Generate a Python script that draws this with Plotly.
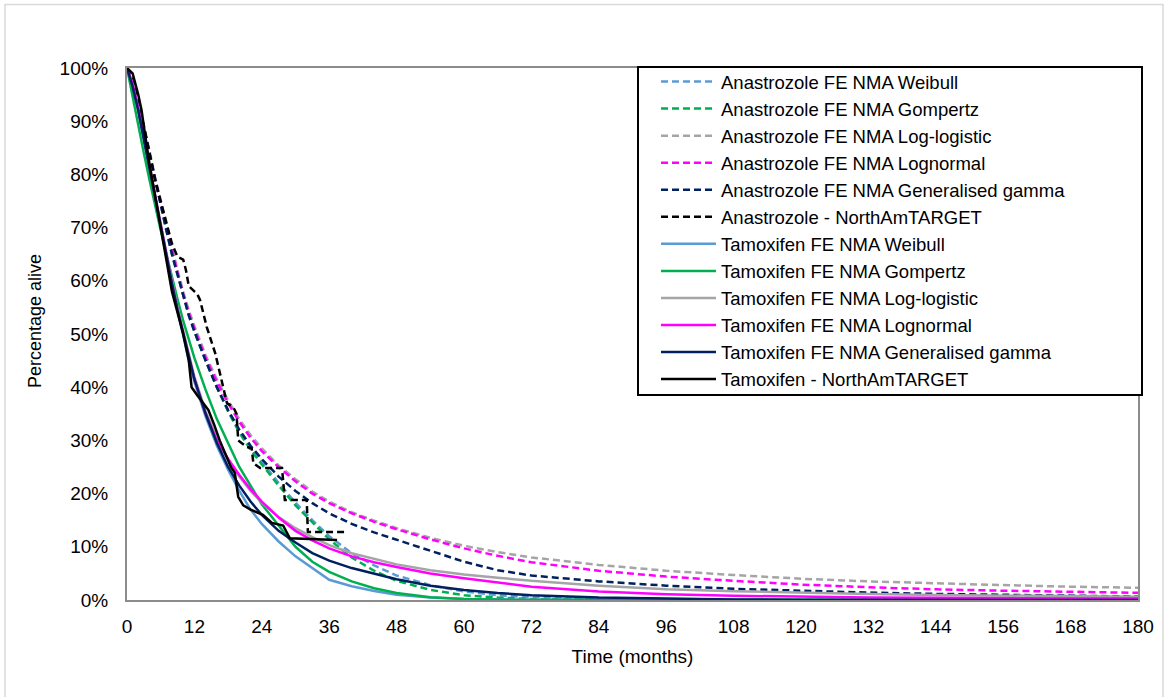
import plotly.graph_objects as go

# ---- data (percent alive) ----
months_fit = [0, 1, 2, 3, 4, 5, 6, 7, 8, 9, 10, 11, 12, 14, 16, 18, 20, 22, 24, 27, 30, 33, 36,
              40, 44, 48, 54, 60, 66, 72, 84, 96, 108, 120, 132, 144, 156, 168, 180]

ana_weibull = [100, 97, 93, 89, 84, 79, 74, 69.5, 65, 61, 57, 53.5, 50.5, 45, 40, 35.5, 31.5, 28.5, 26,
               22, 18.3, 15, 12, 8.8, 6.5, 4.6, 2.8, 1.6, 0.9, 0.5, 0.13, 0.03, 0, 0, 0, 0, 0, 0, 0]
ana_gompertz = [100, 96.5, 92.5, 88.5, 84, 79, 74.5, 70, 65.5, 61.5, 57.5, 54, 50.5, 45, 40, 35.5, 31.5,
                28.2, 25.5, 21.5, 17.8, 14.5, 11.4, 8, 5.5, 3.6, 1.9, 0.9, 0.45, 0.2, 0.03, 0, 0, 0,
                0, 0, 0, 0, 0]
ana_loglogistic = [100, 97.5, 94, 89.5, 84.5, 79.5, 75, 70.5, 66, 62, 58, 54.5, 51.5, 46, 41.5, 37.5,
                   34, 31, 28.5, 25.3, 22.7, 20.4, 18.5, 16.5, 14.9, 13.5, 11.7, 10.2, 9.0, 8.0, 6.6,
                   5.5, 4.7, 4.0, 3.5, 3.1, 2.8, 2.5, 2.3]
ana_lognormal = [100, 97.5, 93.5, 89, 84, 79, 74.5, 70, 65.5, 61.5, 57.5, 54, 51, 45.5, 41, 37, 33.5,
                 30.5, 28, 25, 22.3, 20, 18.2, 16.3, 14.7, 13.3, 11.4, 9.7, 8.3, 7.1, 5.5, 4.4, 3.6,
                 2.9, 2.4, 2.0, 1.75, 1.55, 1.35]
ana_gengamma = [100, 97, 93, 89, 84, 79, 74, 69.5, 65, 61, 57, 53.5, 50.5, 45, 40, 35.7, 32, 29, 26.5,
                23.2, 20.5, 18.2, 16.3, 14.3, 12.7, 11.3, 9.3, 7.2, 5.6, 4.6, 3.5, 2.7, 2.1, 1.7, 1.4,
                1.15, 0.95, 0.8, 0.65]

tam_weibull = [100, 96.5, 92, 86.5, 81, 75.5, 70, 64.5, 59.5, 54.5, 49.5, 45, 41, 34.5, 29, 24.5, 20.5,
               17, 14.3, 11, 8.2, 6, 3.8, 2.6, 1.7, 1.0, 0.45, 0.2, 0.08, 0.03, 0, 0, 0, 0, 0, 0, 0,
               0, 0]
tam_gompertz = [100, 94.5, 89, 84, 79, 74, 69.5, 65, 60.5, 56.5, 52.5, 49, 45.5, 39.5, 34, 29.5, 25,
                21.5, 18, 14, 10, 7.2, 5.3, 3.5, 2.2, 1.3, 0.5, 0.2, 0.05, 0, 0, 0, 0, 0, 0, 0, 0,
                0, 0]
tam_loglogistic = [100, 97, 92.5, 87, 81.5, 76, 70.5, 65, 60, 55, 50.5, 46, 42, 35.5, 30.5, 26.5, 23.2,
                   20.5, 18.3, 15.6, 13.5, 11.8, 10.3, 8.8, 7.7, 6.7, 5.6, 4.8, 4.2, 3.6, 2.7, 2.0,
                   1.65, 1.35, 1.12, 0.95, 0.82, 0.72, 0.63]
tam_lognormal = [100, 97, 92.5, 87, 81.5, 75.5, 70, 64.5, 59.5, 54.5, 50, 45.5, 41.5, 35, 30, 26.5,
                 23.5, 20.8, 18.5, 15.5, 13, 11.2, 9.7, 8.2, 7.1, 6.2, 5.0, 4.1, 3.3, 2.5, 1.6, 1.1,
                 0.8, 0.6, 0.48, 0.4, 0.34, 0.3, 0.26]
tam_gengamma = [100, 96.5, 92, 86.5, 81, 75.5, 70, 64.5, 59.5, 54.5, 50, 45.5, 41.5, 35, 29.5, 25,
                21.5, 18.5, 16, 13, 10.8, 8.8, 7.4, 6, 4.9, 3.9, 2.7, 1.9, 1.3, 0.9, 0.45, 0.22, 0.11,
                0.06, 0.03, 0.02, 0.01, 0, 0]

ana_km_t = [0, 1, 2, 3, 4, 5, 6, 7, 8, 9, 10, 10.5, 11, 12, 12.5, 13, 14.2, 15.7, 17, 17.8, 18.9,
            19.5, 19.8, 21.3, 22.2, 22.5, 23.7, 27.6, 28.1, 32, 32.2, 39.3]
ana_km_s = [100, 98, 94, 89, 84, 79, 75, 71, 67, 64.5, 64, 62, 59, 58, 57.5, 56.4, 51.3, 46.4, 40.5, 37,
            36.3, 35, 30, 28.8, 28.5, 25.7, 24.8, 24.8, 18.8, 18.8, 12.8, 12.8]

tam_km_t = [0, 1, 2, 2.6, 3, 4, 5, 6, 7, 8, 9, 10, 11, 11.5, 12.5, 13.5, 14.5, 15.5, 16.5, 17.5, 18.5,
            19.2, 19.8, 20.7, 22, 24.2, 25.8, 27.8, 29, 37.4]
tam_km_s = [100, 99, 95, 92, 89, 82, 76, 70, 64, 58, 54, 50, 45, 40, 38.5, 37, 35.7, 33, 30, 27.5, 25,
            23.9, 19.4, 17.8, 17, 16, 14.5, 14, 11.6, 11.3]

x_ticks = list(range(0, 181, 12))
y_ticks = [i / 10 for i in range(0, 11)]
y_tick_labels = [f"{i*10}%" for i in range(0, 11)]

series = [
    ("Anastrozole FE NMA Weibull", months_fit, ana_weibull, "#5B9BD5", "dash"),
    ("Anastrozole FE NMA Gompertz", months_fit, ana_gompertz, "#00B050", "dash"),
    ("Anastrozole FE NMA Log-logistic", months_fit, ana_loglogistic, "#A5A5A5", "dash"),
    ("Anastrozole FE NMA Lognormal", months_fit, ana_lognormal, "#FF00FF", "dash"),
    ("Anastrozole FE NMA Generalised gamma", months_fit, ana_gengamma, "#002060", "dash"),
    ("Anastrozole - NorthAmTARGET", ana_km_t, ana_km_s, "#000000", "dash"),
    ("Tamoxifen FE NMA Weibull", months_fit, tam_weibull, "#5B9BD5", "solid"),
    ("Tamoxifen FE NMA Gompertz", months_fit, tam_gompertz, "#00B050", "solid"),
    ("Tamoxifen FE NMA Log-logistic", months_fit, tam_loglogistic, "#A5A5A5", "solid"),
    ("Tamoxifen FE NMA Lognormal", months_fit, tam_lognormal, "#FF00FF", "solid"),
    ("Tamoxifen FE NMA Generalised gamma", months_fit, tam_gengamma, "#002060", "solid"),
    ("Tamoxifen - NorthAmTARGET", tam_km_t, tam_km_s, "#000000", "solid"),
]

FONT = "Liberation Sans, Arial, sans-serif"

fig = go.Figure()
for name, xs, ys, color, dash in series:
    fig.add_trace(go.Scatter(
        x=xs, y=[v / 100 for v in ys], mode="lines", name=name,
        line=dict(color=color, width=2.5,
                  dash="7px,4px" if dash == "dash" else "solid",
                  shape="linear"),
    ))

W, H = 1168, 697
L, R, T, B = 127, 30, 68, 97
pw, ph = W - L - R, H - T - B

def px_to_paper_x(px):
    return (px - L) / pw

def px_to_paper_y(py):
    return (H - B - py) / ph

fig.update_layout(
    width=W, height=H,
    margin=dict(l=L, r=R, t=T, b=B, pad=0),
    paper_bgcolor="white", plot_bgcolor="white",
    font=dict(family=FONT, size=19, color="#000000"),
    showlegend=True,
    legend=dict(
        x=px_to_paper_x(656), y=px_to_paper_y(63), xanchor="left", yanchor="top",
        bgcolor="rgba(0,0,0,0)", borderwidth=0,
        font=dict(family=FONT, size=18.5, color="#000000"),
        itemwidth=55, tracegroupgap=0, maxheight=600,
    ),
    xaxis=dict(
        range=[0, 180], tickmode="array", tickvals=x_ticks,
        ticktext=[str(v) for v in x_ticks],
        showgrid=False, zeroline=False,
        showline=True, mirror=True, linecolor="#8C8C8C", linewidth=2,
        ticks="", ticklabelstandoff=8,
        tickfont=dict(size=19),
        title=dict(text="Time (months)", font=dict(size=19), standoff=14),
    ),
    yaxis=dict(
        range=[0, 1], tickmode="array", tickvals=y_ticks, ticktext=y_tick_labels,
        showgrid=False, zeroline=False,
        showline=True, mirror=True, linecolor="#8C8C8C", linewidth=2,
        ticks="", ticklabelstandoff=13,
        tickfont=dict(size=19),
    ),
    annotations=[dict(
        text="Percentage alive", textangle=-90, showarrow=False,
        xref="paper", yref="paper", x=px_to_paper_x(35), y=px_to_paper_y(321),
        xanchor="center", yanchor="middle",
        font=dict(family=FONT, size=18, color="#000000"),
    )],
    shapes=[
        dict(
            type="rect", xref="paper", yref="paper",
            x0=px_to_paper_x(5), x1=px_to_paper_x(1163),
            y0=px_to_paper_y(720), y1=px_to_paper_y(4.5),
            line=dict(color="#D9D9D9", width=1.5), fillcolor="rgba(0,0,0,0)", layer="below",
        ),
        dict(
            type="rect", xref="paper", yref="paper",
            x0=px_to_paper_x(638), x1=px_to_paper_x(1142),
            y0=px_to_paper_y(395), y1=px_to_paper_y(67),
            line=dict(color="#000000", width=2), fillcolor="white", layer="above",
        ),
    ],
)

fig.write_html("out.html")
